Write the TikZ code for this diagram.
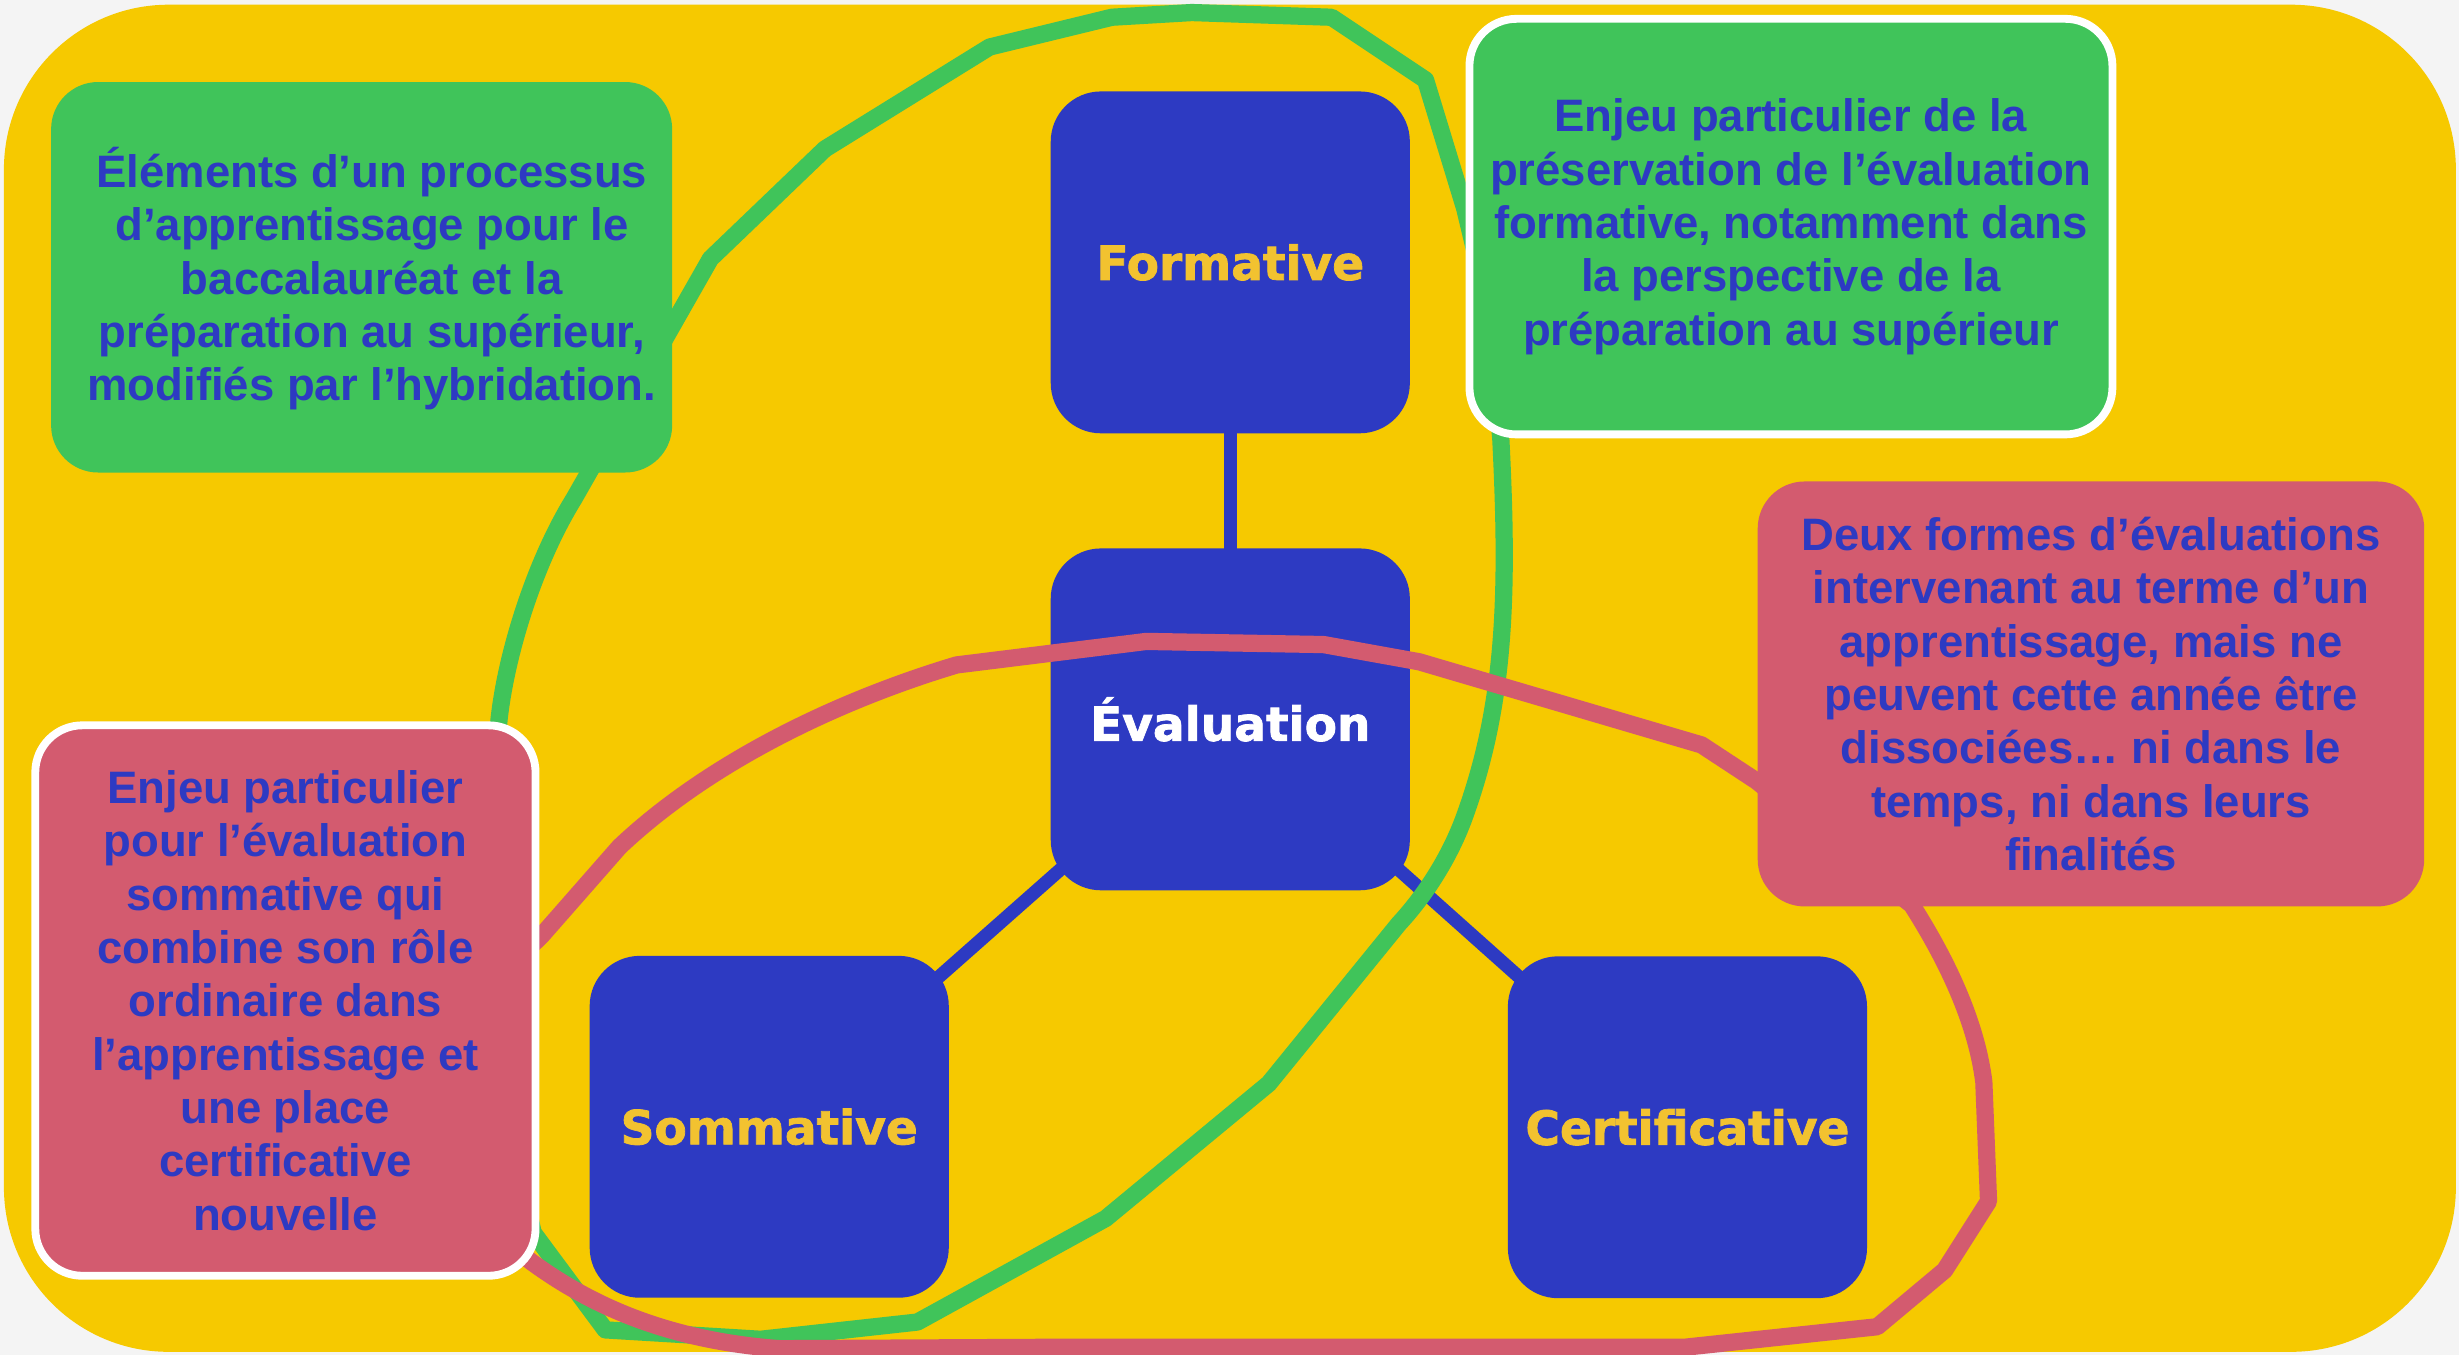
\documentclass[tikz,border=0pt]{standalone}
\usepackage{fontspec}
\setmainfont{Liberation Sans}
\newfontfamily\heavyfont{DejaVu Sans}[FakeBold=1.6]
\definecolor{pagegray}{HTML}{F4F4F4}
\definecolor{bgyellow}{HTML}{F6C900}
\definecolor{boxblue}{HTML}{2D3AC2}
\definecolor{txtblue}{HTML}{2D3AC2}
\definecolor{tgreen}{HTML}{40C45A}
\definecolor{tred}{HTML}{D35B6F}
\definecolor{gold}{HTML}{F2C230}
\pgfdeclarelayer{back}
\pgfsetlayers{back,main}
\begin{document}
\begin{tikzpicture}[x=1pt,y=-1pt,
  bluebox/.style={fill=boxblue, rounded corners=32pt, minimum width=229pt, minimum height=218pt, inner sep=0pt, font=\heavyfont\bfseries\fontsize{30}{36}\selectfont},
  txtbox/.style={rounded corners=30pt, inner sep=0pt, align=center, text=txtblue, font=\bfseries\fontsize{29}{34}\selectfont},
  framed/.style={draw=white, line width=5pt},
  conn/.style={draw=boxblue, line width=8.5pt},
  loopg/.style={draw=tgreen, line width=11pt, line join=round, line cap=round},
  loopr/.style={draw=tred, line width=11pt, line join=round, line cap=round}]
\useasboundingbox (0,0) rectangle (1568,864);

% blue nodes
\node[bluebox, text=gold]  (form) at (784.5,167.3) {Formative};
\node[bluebox, text=white] (eval) at (784.5,458.7) {Évaluation};
\node[bluebox, text=gold]  (somm) at (490.5,718.5) {Sommative};
\node[bluebox, text=gold]  (cert) at (1076,718.8) {Certificative};

\begin{pgfonlayer}{back}
  \fill[pagegray] (0,0) rectangle (1568,864);
  \fill[bgyellow, rounded corners=105pt] (2.5,3) rectangle (1566,862);
  \draw[conn] (form.center) -- (eval.center);
  \draw[conn] (eval.center) -- (somm.center);
  \draw[conn] (eval.center) -- (cert.center);
\end{pgfonlayer}

% green loop
\draw[loopg] (318,461) .. controls (322,420) and (340,360) .. (366,318)
  -- (453,165) -- (526,95) -- (631,30) -- (709,11) -- (760,8) -- (849,11)
  -- (909,51) -- (934,133) -- (950,200) -- (957,280)
  .. controls (962,380) and (960,450) .. (933,523)
  .. controls (922,552) and (905,575) .. (892,589)
  -- (809,691) -- (705,777) -- (585,843) -- (485,854) -- (386,848)
  -- (340,786) -- (320,700) -- cycle;

% red loop
\draw[loopr] (300,640) -- (345,597) -- (395,540)
  .. controls (450,488) and (530,448) .. (610,424)
  -- (731,409) -- (844,411) -- (905,422) -- (1085,475) -- (1120,498)
  -- (1219,577) .. controls (1240,610) and (1260,650) .. (1265,690)
  -- (1268,766) -- (1240,810) -- (1197,846) -- (1075,859) -- (690,859) -- (497,860)
  .. controls (430,855) and (380,835) .. (338,804) -- (300,770) -- cycle;

% text boxes
\node[txtbox, fill=tgreen, minimum width=396pt, minimum height=249pt] (g1) at (230.6,176.8)
  {\hspace*{13pt}\raisebox{0pt}[\dimexpr\height+6pt\relax]{\begin{tabular}{@{}c@{}}Éléments d’un processus\\d’apprentissage pour le\\baccalauréat et la\\préparation au supérieur,\\modifiés par l’hybridation.\end{tabular}}};
\node[txtbox, framed, fill=tgreen, minimum width=410pt, minimum height=265pt] (g2) at (1142,144.5)
  {Enjeu particulier de la\\préservation de l’évaluation\\formative, notamment dans\\la perspective de la\\préparation au supérieur};
\node[txtbox, framed, fill=tred, minimum width=319pt, minimum height=351pt] (r1) at (182,638)
  {Enjeu particulier\\pour l’évaluation\\sommative qui\\combine son rôle\\ordinaire dans\\l’apprentissage et\\une place\\certificative\\nouvelle};
\node[txtbox, fill=tred, minimum width=425pt, minimum height=271pt] (r2) at (1333.3,442.5)
  {Deux formes d’évaluations\\intervenant au terme d’un\\apprentissage, mais ne\\peuvent cette année être\\dissociées… ni dans le\\temps, ni dans leurs\\finalités};
\end{tikzpicture}
\end{document}
